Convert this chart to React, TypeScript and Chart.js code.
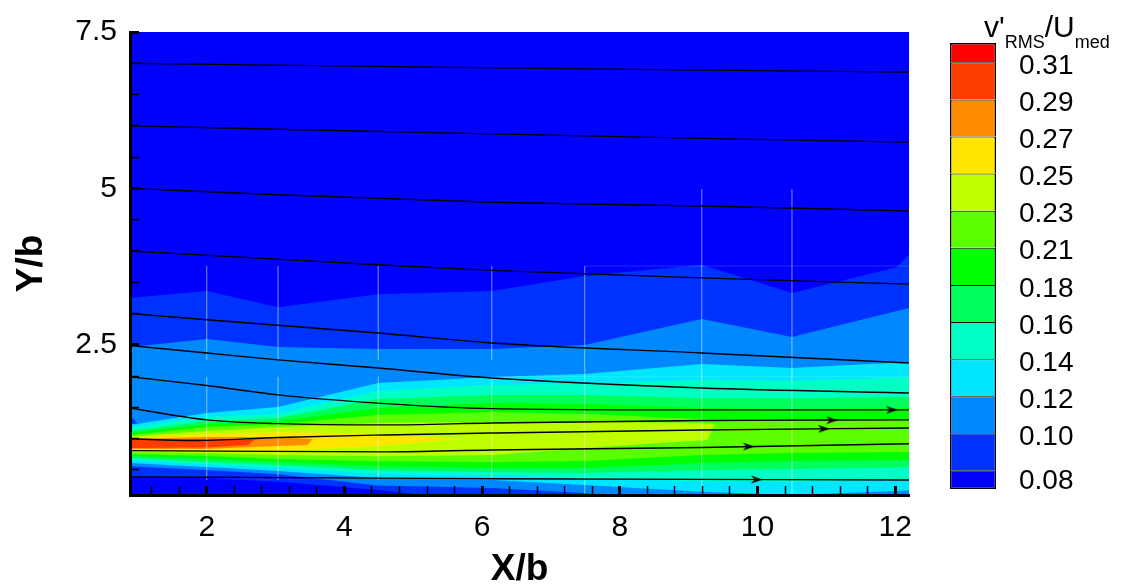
import React, { useEffect, useRef } from 'react';
import { Chart, registerables } from 'chart.js';

Chart.register(...registerables);

const FONT = "'Liberation Sans', Arial, Helvetica, sans-serif";

// ---------- axes ----------
const xRange = [0.885, 12.2];
const yRange = [0.1, 7.5];
const xTickValues = [1.2, 1.6, 2, 2.4, 2.8, 3.2, 3.6, 4, 4.4, 4.8, 5.2, 5.6, 6, 6.4, 6.8, 7.2, 7.6, 8, 8.4, 8.8, 9.2, 9.6, 10, 10.4, 10.8, 11.2, 11.6, 12];
const xMajorTicks = [2, 4, 6, 8, 10, 12];
const yTickValues = [0.5, 1, 1.5, 2, 2.5, 3, 3.5, 4, 4.5, 5, 5.5, 6, 6.5, 7, 7.5];
const yMajorTicks = [2.5, 5, 7.5];

// ---------- colour levels ----------
const levelValues = [0.08, 0.1009, 0.1218, 0.1427, 0.1636, 0.1845, 0.2055, 0.2264, 0.2473, 0.2682, 0.2891, 0.31];
const levelLabels = ['0.08', '0.10', '0.12', '0.14', '0.16', '0.18', '0.21', '0.23', '0.25', '0.27', '0.29', '0.31'];
const levelLabelPos = [0.0739, 0.0987, 0.1196, 0.1405, 0.1614, 0.1823, 0.2033, 0.2242, 0.2451, 0.266, 0.2869, 0.3078];
const barRange = [0.0695, 0.3209];
const bandColors = ['#0000FF', '#0032FF', '#0088FF', '#00E6FF', '#00FFC4', '#00FF5A', '#00FF00', '#5CFF00', '#BEFF00', '#FFE600', '#FF8C00', '#FF3C00', '#FF0000'];

// ---------- contour bands (region where value >= level k) ----------
const K = [0.885, 2.0, 3.035, 4.49, 6.14, 7.49, 9.19, 10.5, 12.2];
const bandUpperX = [
  [],
  [0.885, 2.0, 3.035, 4.49, 6.14, 7.49, 9.19, 10.5, 12.02, 12.2],
  K, K, K, K, K, K,
  [0.885, 2.0, 3.035, 4.49, 6.14, 7.49, 9.19, 9.38],
  [0.885, 2.0, 3.035, 4.49, 5.68],
  [0.885, 2.0, 3.035, 3.54],
  [0.885, 2.0, 2.7],
];
const bandUpperY = [
  [],
  [3.25, 3.36, 3.1, 3.31, 3.36, 3.6, 3.78, 3.33, 3.74, 3.94],
  [2.465, 2.593, 2.465, 2.433, 2.433, 2.497, 2.913, 2.625, 3.089],
  [1.219, 1.411, 1.506, 1.89, 1.986, 2.034, 2.194, 2.13, 2.226],
  [1.171, 1.347, 1.395, 1.762, 1.858, 1.874, 1.938, 1.922, 1.986],
  [1.123, 1.283, 1.331, 1.634, 1.698, 1.698, 1.65, 1.65, 1.666],
  [1.091, 1.235, 1.283, 1.49, 1.57, 1.554, 1.49, 1.474, 1.49],
  [1.059, 1.187, 1.235, 1.379, 1.427, 1.395, 1.315, 1.299, 1.299],
  [1.035, 1.123, 1.187, 1.251, 1.267, 1.267, 1.251, 1.235],
  [1.011, 1.075, 1.107, 1.075, 0.995],
  [0.995, 1.027, 1.027, 0.995],
  [0.979, 0.995, 0.987],
];
const bandLowerX = [
  [],
  [0.885, 2.0, 3.035, 4.49, 5.5, 6.0, 12.2],
  [0.885, 2.0, 3.035, 4.49, 6.14, 7.49, 8.2, 12.2],
  K, K, K, K, K,
  [0.885, 2.0, 3.035, 4.49, 6.14, 7.49, 9.27],
  [0.885, 2.0, 3.035, 4.49],
  [0.885, 2.0, 3.035, 3.46],
  [0.885, 2.0, 2.6],
];
const bandLowerY = [
  [],
  [0.39, 0.37, 0.31, 0.18, 0.06, 0.0, 0.0],
  [0.56, 0.5, 0.43, 0.25, 0.21, 0.13, 0.0, 0.0],
  [0.611, 0.547, 0.484, 0.37, 0.34, 0.26, 0.15, 0.1, 0.17],
  [0.659, 0.595, 0.531, 0.44, 0.42, 0.36, 0.32, 0.31, 0.34],
  [0.691, 0.627, 0.579, 0.5, 0.468, 0.452, 0.5, 0.515, 0.547],
  [0.723, 0.675, 0.627, 0.56, 0.531, 0.531, 0.611, 0.643, 0.659],
  [0.755, 0.723, 0.675, 0.64, 0.627, 0.643, 0.739, 0.771, 0.787],
  [0.787, 0.771, 0.739, 0.72, 0.74, 0.851, 0.979],
  [0.819, 0.803, 0.803, 0.883],
  [0.835, 0.835, 0.883, 0.899],
  [0.851, 0.859, 0.899],
];
// small low-value notch at the left edge
const wedgeX = [0.885, 0.99, 0.885];
const wedgeY = [1.38, 1.24, 1.24];

// ---------- faint measurement-window seams ----------
const seamX = [2.0, 2.0, 3.035, 3.035, 4.49, 4.49, 6.14, 6.14, 7.49, 9.19, 10.5];
const seamTop = [3.76, 1.99, 3.76, 1.99, 3.76, 1.99, 3.76, 1.99, 3.76, 4.99, 4.99];
const seamBottom = [2.26, 0.34, 2.26, 0.34, 2.26, 0.34, 2.26, 0.34, 0.1, 0.1, 0.1];
const seamHY = [3.76, 1.99];
const seamHX0 = [7.49, 6.14];
const seamHX1 = [12.2, 12.2];

// ---------- streamlines ----------
const streamX = [
  [0.885, 4.49, 9.19, 12.2],
  [0.885, 4.49, 9.19, 12.2],
  [0.885, 3.035, 6.14, 9.19, 12.2],
  [0.885, 4.49, 6.14, 9.19, 12.2],
  [0.885, 2.0, 4.49, 6.14, 9.19, 12.2],
  [0.885, 2.0, 3.035, 4.49, 6.14, 9.19, 12.2],
  [0.885, 2.0, 3.035, 4.6, 6.14, 9.19, 12.2],
  [0.885, 2.0, 3.035, 4.6, 6.14, 9.19, 12.2],
  [0.885, 1.8, 3.035, 4.6, 6.14, 9.19, 12.2],
  [0.885, 4.6, 6.14, 9.19, 12.2],
  [0.885, 4.6, 6.14, 12.2],
];
const streamY = [
  [7.0, 6.95, 6.89, 6.86],
  [6.0, 5.91, 5.8, 5.74],
  [5.0, 4.9, 4.78, 4.72, 4.64],
  [4.0, 3.78, 3.69, 3.57, 3.47],
  [3.0, 2.9, 2.69, 2.53, 2.37, 2.21],
  [2.49, 2.37, 2.26, 2.13, 1.97, 1.81, 1.73],
  [1.99, 1.85, 1.7, 1.56, 1.48, 1.46, 1.46],
  [1.49, 1.3, 1.24, 1.22, 1.25, 1.29, 1.3],
  [1.0, 0.97, 1.02, 1.06, 1.09, 1.14, 1.17],
  [0.81, 0.79, 0.82, 0.86, 0.92],
  [0.39, 0.37, 0.36, 0.34],
];
const arrowLine = [6, 7, 8, 9, 10];
const arrowX = [11.95, 11.08, 10.96, 9.87, 9.99];

function interp(xs: number[], ys: number[], x: number) {
  for (let i = 0; i < xs.length - 1; i++) {
    if (x >= xs[i] && x <= xs[i + 1]) {
      const t = (x - xs[i]) / (xs[i + 1] - xs[i]);
      return ys[i] + t * (ys[i + 1] - ys[i]);
    }
  }
  return ys[ys.length - 1];
}

function polygon(ux: number[], uy: number[], lx: number[], ly: number[]) {
  const pts = ux.map((x, i) => ({ x, y: uy[i] }));
  for (let i = lx.length - 1; i >= 0; i--) pts.push({ x: lx[i], y: ly[i] });
  return pts;
}

const near = (a: number, list: number[]) => list.some((v) => Math.abs(v - a) < 1e-6);

export default function App() {
  const mainRef = useRef<HTMLCanvasElement>(null);
  const barRef = useRef<HTMLCanvasElement>(null);

  useEffect(() => {
    Chart.defaults.font.family = FONT;
    Chart.defaults.color = '#000';

    const arrow = document.createElement('canvas');
    arrow.width = 12;
    arrow.height = 9;
    const actx = arrow.getContext('2d')!;
    actx.fillStyle = '#000';
    actx.beginPath();
    actx.moveTo(0, 0.5);
    actx.lineTo(12, 4.5);
    actx.lineTo(0, 8.5);
    actx.lineTo(4, 4.5);
    actx.closePath();
    actx.fill();

    const poly = { borderWidth: 0, pointRadius: 0, pointHoverRadius: 0, tension: 0, showLine: true, fill: 'shape' as const };

    const datasets: any[] = [];
    datasets.push({
      ...poly,
      data: polygon(xRange, [yRange[1], yRange[1]], xRange, [yRange[0], yRange[0]]),
      backgroundColor: bandColors[0],
      order: 100,
    });
    for (let k = 1; k < bandUpperX.length; k++) {
      datasets.push({
        ...poly,
        data: polygon(bandUpperX[k], bandUpperY[k], bandLowerX[k], bandLowerY[k]),
        backgroundColor: bandColors[k],
        order: 100 - k,
      });
    }
    datasets.push({
      ...poly,
      data: wedgeX.map((x, i) => ({ x, y: wedgeY[i] })),
      backgroundColor: bandColors[1],
      order: 70,
    });
    seamX.forEach((x, i) => {
      datasets.push({
        data: [{ x, y: seamTop[i] }, { x, y: seamBottom[i] }],
        borderColor: 'rgba(255,255,255,0.2)',
        borderWidth: 1,
        pointRadius: 0,
        fill: false,
        order: 20,
      });
    });
    seamHY.forEach((y, i) => {
      datasets.push({
        data: [{ x: seamHX0[i], y }, { x: seamHX1[i], y }],
        borderColor: 'rgba(255,255,255,0.15)',
        borderWidth: 1,
        pointRadius: 0,
        fill: false,
        order: 20,
      });
    });
    streamX.forEach((xs, i) => {
      datasets.push({
        data: xs.map((x, j) => ({ x, y: streamY[i][j] })),
        borderColor: '#000',
        borderWidth: 1.4,
        pointRadius: 0,
        fill: false,
        cubicInterpolationMode: 'monotone',
        order: 10,
      });
    });
    datasets.push({
      data: arrowX.map((x, i) => ({ x, y: interp(streamX[arrowLine[i]], streamY[arrowLine[i]], x) })),
      showLine: false,
      pointStyle: arrow,
      pointRadius: 5,
      fill: false,
      order: 1,
    });

    const main = new Chart(mainRef.current!, {
      type: 'line',
      data: { datasets },
      options: {
        animation: false,
        responsive: false,
        devicePixelRatio: 1,
        events: [],
        layout: { padding: { left: 0, right: 31, top: 32, bottom: 0 } },
        plugins: { legend: { display: false }, tooltip: { enabled: false } },
        scales: {
          x: {
            type: 'linear',
            min: xRange[0],
            max: xRange[1],
            bounds: 'data',
            afterBuildTicks: (s: any) => {
              s.ticks = xTickValues.map((v) => ({ value: v }));
            },
            afterFit: (s: any) => {
              s.height = 93;
              s.paddingLeft = 0;
              s.paddingRight = 0;
            },
            ticks: {
              autoSkip: false,
              maxRotation: 0,
              padding: 24,
              color: '#000',
              font: { size: 30 },
              callback: (v: any) => (near(Number(v), xMajorTicks) ? String(Math.round(Number(v))) : ''),
            },
            grid: {
              drawOnChartArea: false,
              drawTicks: true,
              tickLength: -9,
              tickColor: '#000',
              tickWidth: (ctx: any) => (ctx.tick && near(ctx.tick.value, xMajorTicks) ? 3 : 1.5),
              z: 1,
            },
            border: { display: true, color: '#000', width: 3, z: 1 },
            title: {
              display: true,
              text: 'X/b',
              color: '#000',
              font: { size: 37, weight: 'bold', lineHeight: 1 },
              padding: { top: 0, bottom: 0 },
            },
          },
          y: {
            type: 'linear',
            min: yRange[0],
            max: yRange[1],
            bounds: 'data',
            afterBuildTicks: (s: any) => {
              s.ticks = yTickValues.map((v) => ({ value: v }));
            },
            afterFit: (s: any) => {
              s.width = 130;
              s.paddingTop = 0;
              s.paddingBottom = 0;
            },
            ticks: {
              autoSkip: false,
              padding: 22,
              color: '#000',
              font: { size: 30 },
              callback: (v: any) => (near(Number(v), yMajorTicks) ? String(Number(v)) : ''),
            },
            grid: {
              drawOnChartArea: false,
              drawTicks: true,
              tickLength: -9,
              tickColor: '#000',
              tickWidth: (ctx: any) => (ctx.tick && near(ctx.tick.value, yMajorTicks) ? 3 : 1.5),
              z: 1,
            },
            border: { display: true, color: '#000', width: 3, z: 1 },
            title: {
              display: true,
              text: 'Y/b',
              color: '#000',
              font: { size: 37, weight: 'bold', lineHeight: 1 },
              padding: { top: 13, bottom: 0 },
            },
          },
        },
      } as any,
    });

    const bounds = [barRange[0], ...levelValues, barRange[1]];
    const barSets = bandColors.map((c, k) => ({
      data: [[bounds[k], bounds[k + 1]]],
      backgroundColor: c,
      borderColor: '#000',
      borderWidth: { top: k === bandColors.length - 1 ? 1.5 : 1, bottom: k === 0 ? 1.5 : 0, left: 1.5, right: 1.5 },
      borderSkipped: false,
      grouped: false,
      barPercentage: 1,
      categoryPercentage: 1,
      inflateAmount: 0,
    }));

    const bar = new Chart(barRef.current!, {
      type: 'bar',
      data: { labels: [''], datasets: barSets as any },
      options: {
        animation: false,
        responsive: false,
        devicePixelRatio: 1,
        events: [],
        layout: { padding: { left: 10, right: 0, top: 43, bottom: 99 } },
        plugins: { legend: { display: false }, tooltip: { enabled: false } },
        scales: {
          x: { display: false },
          y: {
            type: 'linear',
            position: 'right',
            min: barRange[0],
            max: barRange[1],
            bounds: 'data',
            afterBuildTicks: (s: any) => {
              s.ticks = levelLabelPos.map((v) => ({ value: v }));
            },
            afterFit: (s: any) => {
              s.width = 126;
              s.paddingTop = 0;
              s.paddingBottom = 0;
            },
            ticks: {
              autoSkip: false,
              padding: 23,
              color: '#000',
              font: { size: 28 },
              callback: (_v: any, i: number) => levelLabels[i],
            },
            grid: { display: false, drawTicks: false },
            border: { display: false },
          },
        },
      } as any,
    });

    return () => {
      main.destroy();
      bar.destroy();
    };
  }, []);

  const sub: React.CSSProperties = { fontSize: 18, position: 'relative', top: 11 };

  return (
    <div style={{ position: 'fixed', left: 0, top: 0, width: 1122, height: 588, background: '#fff', overflow: 'hidden' }}>
      <canvas ref={mainRef} width={940} height={588} style={{ position: 'absolute', left: 0, top: 0, width: 940, height: 588 }} />
      <canvas ref={barRef} width={182} height={588} style={{ position: 'absolute', left: 940, top: 0, width: 182, height: 588 }} />
      <div
        style={{
          position: 'absolute',
          left: 984,
          top: 11.6,
          fontFamily: FONT,
          fontSize: 30,
          lineHeight: 1,
          whiteSpace: 'nowrap',
          color: '#000',
        }}
      >
        v'<span style={sub}>RMS</span>/U<span style={sub}>med</span>
      </div>
    </div>
  );
}
